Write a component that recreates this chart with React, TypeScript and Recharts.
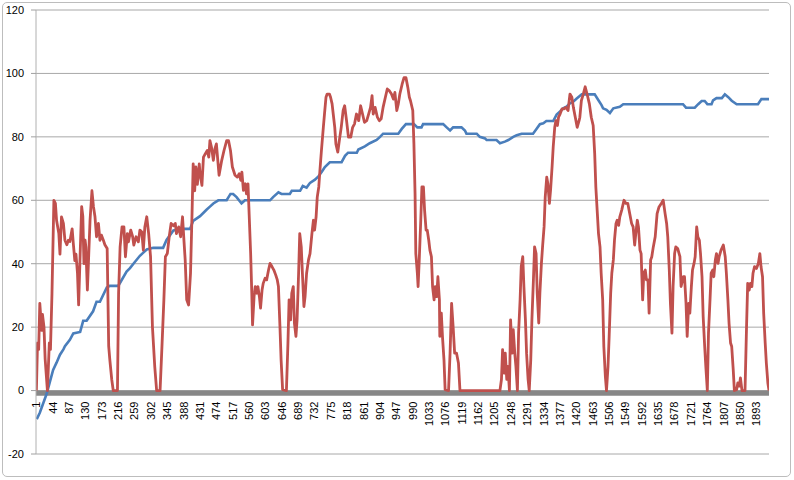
import { CartesianGrid, ComposedChart, Line, ReferenceArea, XAxis, YAxis } from "recharts";

const xTicks = [
  1, 44, 87, 130, 173, 216, 259, 302, 345, 388, 431, 474, 517, 560, 603, 646, 689, 732, 775, 818, 861, 904, 947,
  990, 1033, 1076, 1119, 1162, 1205, 1248, 1291, 1334, 1377, 1420, 1463, 1506, 1549, 1592, 1635, 1678, 1721, 1764,
  1807, 1850, 1893,
];
const yTicks = [-20, 0, 20, 40, 60, 80, 100, 120];

// [category index, value]
const bluePoints: [number, number][] = [
  [2, -9], [10, -7], [19, -4], [28, -1], [37, 3], [45, 6.5], [54, 8.8], [63, 11.3], [72, 13], [76, 14], [89, 16],
  [98, 18], [116, 18.5], [124, 22], [133, 22], [150, 25], [159, 28], [168, 28], [186, 32.5], [194, 33], [216, 33],
  [221, 34], [238, 37.5], [247, 38.6], [256, 40], [273, 42.5], [282, 43.5], [291, 44.5], [308, 45], [334, 45],
  [343, 47.5], [361, 50.5], [387, 51], [405, 51], [413, 53.5], [431, 55], [448, 57], [457, 58], [466, 59],
  [479, 60], [501, 60], [511, 62], [518, 62], [527, 61], [540, 59], [549, 60], [615, 60], [623, 61], [637, 62.5],
  [645, 62], [667, 62], [672, 63], [694, 63], [701, 64.5], [711, 64], [720, 65.5], [733, 66.5], [742, 67.5],
  [751, 69], [759, 70.5], [772, 72], [803, 72], [812, 74], [820, 75], [843, 75], [847, 76], [864, 77], [877, 78],
  [895, 79], [904, 80], [912, 81], [952, 81], [961, 82.5], [972, 84], [993, 84], [1002, 83], [1013, 83],
  [1017, 84], [1070, 84], [1079, 83], [1088, 82], [1096, 83], [1118, 83], [1127, 82], [1131, 81], [1158, 81],
  [1166, 80], [1180, 79.5], [1184, 79], [1210, 79], [1219, 78], [1232, 78.5], [1241, 79], [1254, 80],
  [1263, 80.5], [1276, 81], [1306, 81], [1315, 82.5], [1324, 84], [1333, 84.3], [1341, 85], [1359, 85],
  [1368, 87], [1377, 88], [1385, 89], [1394, 89.5], [1403, 90.6], [1411, 91], [1420, 92], [1434, 93.4],
  [1468, 93.4], [1477, 91.7], [1486, 90], [1490, 89], [1499, 88.5], [1508, 87.5], [1517, 89], [1534, 89.5],
  [1543, 90.3], [1700, 90.3], [1708, 89.2], [1731, 89.2], [1740, 90.3], [1749, 91.3], [1757, 91.3],
  [1764, 90.3], [1775, 90.3], [1779, 91.5], [1788, 92.2], [1802, 92.2], [1810, 93.4], [1819, 92.5],
  [1828, 91.4], [1841, 90.3], [1897, 90.3], [1906, 91.9], [1926, 91.9],
];

const redPoints: [number, number][] = [
  [1, 0], [4, 15], [7, 13], [10, 27.5], [15, 19], [17, 24], [21, 20], [24, 10], [30, 0], [35, 15], [38, 13],
  [42, 30.7], [47, 60], [51, 59], [54, 53.7], [60, 49.5], [63, 43], [67, 54.8], [72, 52.7], [76, 47.4], [81, 46],
  [85, 47.4], [89, 47], [95, 51], [98, 46.4], [102, 41], [105, 43], [109, 37], [112, 27], [116, 43], [120, 58],
  [123, 55], [126, 40], [129, 47.4], [131, 45.3], [135, 31.7], [138, 41], [142, 53.7], [147, 63], [151, 58],
  [155, 54.8], [159, 48.5], [164, 52.7], [168, 47.4], [172, 49], [177, 47.4], [181, 46], [187, 44.8], [191, 14],
  [194, 9.7], [199, 3.5], [203, 0], [214, 0], [217, 30.7], [221, 45.3], [226, 51.6], [231, 51.6], [235, 42.2],
  [240, 49.5], [243, 46.9], [249, 50.6], [254, 48.5], [257, 45.9], [263, 48.5], [269, 46.9], [273, 50.6],
  [278, 50], [282, 44.3], [286, 51.6], [291, 54.8], [296, 49.5], [301, 42.2], [306, 20], [312, 7.6], [317, 0],
  [326, 0], [331, 14], [336, 28.6], [340, 42.2], [345, 43.2], [350, 48.5], [355, 52.7], [361, 52], [366, 52.7],
  [369, 49.5], [375, 51.6], [380, 48.5], [385, 54.8], [389, 46.9], [392, 41.2], [396, 28.6], [401, 27],
  [406, 37], [410, 55.8], [413, 71.5], [417, 63], [420, 70.5], [424, 65], [429, 71.5], [431, 68.4],
  [436, 64.7], [440, 73.6], [445, 74.7], [450, 75.7], [454, 73.6], [457, 78.8], [461, 76.8], [466, 72.6],
  [470, 76.2], [474, 77.8], [481, 67.9], [488, 72.6], [494, 75.7], [501, 78.8], [506, 78.8], [511, 75.7],
  [516, 70.5], [523, 67.9], [529, 67.3], [534, 68.4], [538, 66.3], [541, 68.9], [545, 63.1], [550, 65.2],
  [553, 62], [557, 65.2], [560, 55.8], [564, 43.2], [567, 30.7], [569, 20.7], [573, 29.6], [576, 32.8],
  [580, 30.7], [583, 32.8], [587, 29.6], [590, 26], [594, 31.7], [597, 33.8], [602, 35.4], [606, 34.9],
  [611, 38], [615, 40.1], [620, 39.1], [625, 38], [630, 36.4], [634, 34.9], [637, 32.8], [641, 20.2],
  [644, 9.7], [648, 0.3], [658, 0], [662, 15], [665, 28.6], [669, 22.3], [672, 30.7], [676, 32.8], [679, 21.3],
  [683, 17.1], [686, 22.3], [690, 37], [693, 49.5], [697, 45.3], [700, 37], [704, 26.5], [707, 29.6], [711, 37],
  [716, 41.2], [720, 43.2], [725, 49.5], [729, 53.7], [732, 50.6], [736, 54.8], [739, 61], [743, 64.2],
  [746, 69.4], [750, 75.7], [755, 83], [758, 87.2], [762, 92.5], [765, 93.5], [771, 93.5], [774, 92.5],
  [778, 90.4], [781, 87.2], [785, 83], [788, 77.8], [793, 75.2], [797, 78.8], [802, 83], [807, 88.3],
  [811, 89.8], [816, 85.1], [821, 79.9], [827, 79.9], [832, 83], [837, 84.1], [842, 87.2], [848, 85.1],
  [853, 89.8], [858, 87.2], [863, 84.6], [869, 85.1], [874, 87.2], [879, 89.3], [883, 93], [886, 87.2],
  [891, 89.3], [897, 86.2], [902, 85.1], [907, 85.7], [912, 89.3], [918, 92.5], [923, 95.1], [928, 94.6],
  [934, 93.5], [939, 91.9], [943, 94], [948, 88.3], [952, 90.4], [956, 93.5], [962, 96.6], [967, 98.7],
  [972, 98.7], [977, 95.6], [981, 92.5], [984, 91.4], [990, 88.3], [993, 77.8], [996, 62], [998, 43.2],
  [1002, 37], [1004, 32.8], [1007, 41.2], [1011, 53.7], [1014, 64.2], [1018, 64.2], [1021, 56.9],
  [1025, 50.6], [1028, 50.6], [1032, 47.4], [1035, 44.3], [1039, 42.2], [1042, 32.8], [1046, 28.6],
  [1049, 32.8], [1053, 29.6], [1056, 35.9], [1060, 28.6], [1061, 17.1], [1065, 24.4], [1068, 17.1],
  [1072, 9.7], [1075, 0.3], [1084, 0], [1088, 11.8], [1092, 27.5], [1096, 20.2], [1100, 11.8], [1105, 11.8],
  [1110, 8.7], [1114, 0], [1219, 0], [1223, 3.5], [1226, 12.9], [1230, 5.5], [1233, 11.8], [1237, 3.5],
  [1240, 7.6], [1244, 0], [1247, 22.3], [1251, 11.8], [1254, 19.2], [1258, 11.8], [1261, 7.6], [1265, 0],
  [1268, 18.1], [1272, 28.6], [1275, 39.1], [1279, 42.2], [1282, 32.8], [1286, 22.3], [1289, 11.8],
  [1293, 3.5], [1296, 0], [1300, 9.7], [1303, 22.3], [1307, 34.9], [1310, 45.3], [1314, 43.2], [1317, 30.7],
  [1321, 21.3], [1324, 30.7], [1328, 40.1], [1331, 45.3], [1335, 51.6], [1338, 61], [1342, 67.3],
  [1345, 65.2], [1349, 59], [1352, 63.1], [1356, 70.5], [1359, 76.8], [1363, 83], [1366, 85.1], [1370, 83.6],
  [1373, 86.2], [1377, 87.2], [1382, 88.8], [1387, 88.8], [1392, 89.3], [1398, 88.3], [1403, 93.5],
  [1408, 92.5], [1412, 89.3], [1417, 86.2], [1422, 83], [1427, 85.1], [1429, 86.2], [1433, 91.4],
  [1438, 93.5], [1443, 95.8], [1448, 93.5], [1454, 90.4], [1459, 86.2], [1464, 83.6], [1468, 74.7],
  [1471, 64.2], [1475, 55.8], [1478, 49.5], [1482, 45.3], [1485, 37], [1489, 28.6], [1492, 13.9],
  [1496, 4.5], [1499, 0], [1503, 7.6], [1506, 17.1], [1510, 30.7], [1513, 37], [1517, 41.2], [1520, 47.4],
  [1524, 52.7], [1527, 53.7], [1531, 52.1], [1534, 54.8], [1539, 56.9], [1545, 60], [1550, 59], [1555, 59],
  [1560, 55.8], [1565, 52.7], [1569, 51.6], [1573, 45.9], [1576, 49.5], [1580, 53.7], [1583, 51.6],
  [1587, 44.3], [1590, 43.2], [1594, 28.6], [1597, 37], [1601, 38], [1604, 34.9], [1608, 34.9], [1611, 24.4],
  [1615, 41.2], [1618, 42.2], [1622, 45.3], [1627, 48.5], [1632, 55.8], [1637, 57.9], [1643, 59], [1648, 60],
  [1653, 55.8], [1657, 52.7], [1660, 48.5], [1664, 38], [1667, 27.5], [1671, 18.1], [1674, 32.8],
  [1678, 43.2], [1681, 45.3], [1686, 44.8], [1692, 42.2], [1695, 32.8], [1701, 35.9], [1704, 35.9],
  [1708, 27.5], [1711, 17.1], [1715, 27.5], [1718, 24.4], [1722, 32.8], [1725, 38], [1729, 40.1],
  [1732, 42.2], [1736, 51.6], [1739, 48.5], [1743, 47.4], [1746, 43.2], [1750, 35.9], [1753, 23.4],
  [1757, 13.9], [1760, 7.6], [1764, 0], [1767, 18.1], [1771, 28.6], [1774, 37], [1778, 38], [1781, 35.9],
  [1785, 41.2], [1788, 43.2], [1792, 40.1], [1795, 42.2], [1800, 44.3], [1806, 45.9], [1811, 42.2],
  [1814, 37], [1818, 28.6], [1821, 21.3], [1825, 15], [1828, 13.9], [1832, 6.6], [1835, 0], [1841, 0.3],
  [1844, 2.4], [1848, 1.4], [1851, 4], [1855, 0], [1863, 0], [1867, 20.2], [1870, 33.8], [1874, 31.7],
  [1877, 33.8], [1881, 32.8], [1884, 37], [1888, 39.1], [1893, 38.5], [1898, 40.1], [1902, 43.2],
  [1905, 39.1], [1909, 35.9], [1912, 24.4], [1916, 15], [1919, 8.7], [1923, 2.4], [1926, 0],
];

const WIDTH = 794;
const HEIGHT = 480;
const MARGIN = { top: 10, right: 25, left: 0, bottom: 0 };
const Y_AXIS_WIDTH = 36;
const X_AXIS_HEIGHT = 26;
const Y_MIN = -20;
const Y_MAX = 120;
const FONT = "'Liberation Sans', Arial, sans-serif";

const plotHeight = HEIGHT - MARGIN.top - MARGIN.bottom - X_AXIS_HEIGHT;
const zeroY = MARGIN.top + (plotHeight * Y_MAX) / (Y_MAX - Y_MIN);

const blueData = bluePoints.map(([x, v]) => ({ x, v }));
const redData = redPoints.map(([x, v]) => ({ x, v }));

function CategoryTick(props: any) {
  const { x, payload } = props;
  const top = zeroY + 11;
  return (
    <text
      x={x}
      y={top}
      transform={`rotate(-90 ${x} ${top})`}
      textAnchor="end"
      dy="0.35em"
      fontSize={11}
      fontFamily={FONT}
      fill="#000"
    >
      {payload.value}
    </text>
  );
}

export default function App() {
  return (
    <div style={{ position: "absolute", left: 0, top: 0, width: WIDTH, height: HEIGHT, background: "#fff" }}>
      <div
        style={{
          position: "absolute",
          left: 2,
          top: 2,
          width: 787,
          height: 473,
          border: "1.5px solid #bdbdbd",
          borderRadius: 5,
        }}
      />
      <div style={{ position: "absolute", left: 0, top: 0 }}>
        <ComposedChart width={WIDTH} height={HEIGHT} margin={MARGIN}>
          <CartesianGrid vertical={false} stroke="#a8a8a8" strokeWidth={1} />
          <XAxis
            type="number"
            dataKey="x"
            domain={[0, 1926]}
            ticks={xTicks}
            interval={0}
            height={X_AXIS_HEIGHT}
            axisLine={false}
            tickLine={false}
            tick={<CategoryTick />}
            allowDataOverflow
          />
          <YAxis
            type="number"
            domain={[Y_MIN, Y_MAX]}
            ticks={yTicks}
            interval={0}
            width={Y_AXIS_WIDTH}
            axisLine={{ stroke: "#b0b0b0" }}
            tickLine={{ stroke: "#a0a0a0" }}
            tickSize={5}
            tickMargin={7}
            tick={{ fontSize: 11, fontFamily: FONT, fill: "#000" }}
          />
          {/* dense category tick marks read as a thick band just under zero */}
          <ReferenceArea y1={-1.6} y2={0} fill="#878787" fillOpacity={1} stroke="none" />
          <Line
            data={blueData}
            dataKey="v"
            type="linear"
            stroke="#4a7ebb"
            strokeWidth={2.6}
            dot={false}
            isAnimationActive={false}
          />
          <Line
            data={redData}
            dataKey="v"
            type="linear"
            stroke="#c0504d"
            strokeWidth={2.8}
            strokeLinejoin="round"
            dot={false}
            isAnimationActive={false}
          />
        </ComposedChart>
      </div>
    </div>
  );
}
